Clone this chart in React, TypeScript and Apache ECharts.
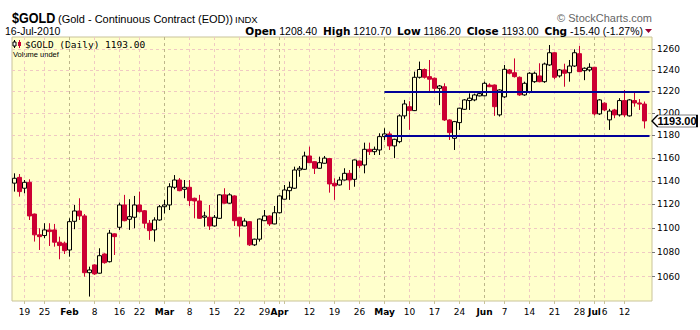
import React, { useEffect, useRef } from "react";
import * as echarts from "echarts";

// Trading days (Jan 14 - Jul 16, 2010)
const janDays = [14, 15, 19, 20, 21, 22, 25, 26, 27, 28, 29];
const febDays = [1, 2, 3, 4, 5, 8, 9, 10, 11, 12, 16, 17, 18, 19, 22, 23, 24, 25, 26];
const marDays = [1, 2, 3, 4, 5, 8, 9, 10, 11, 12, 15, 16, 17, 18, 19, 22, 23, 24, 25, 26, 29, 30, 31];
const aprDays = [1, 5, 6, 7, 8, 9, 12, 13, 14, 15, 16, 19, 20, 21, 22, 23, 26, 27, 28, 29, 30];
const mayDays = [3, 4, 5, 6, 7, 10, 11, 12, 13, 14, 17, 18, 19, 20, 21, 24, 25, 26, 27, 28];
const junDays = [1, 2, 3, 4, 7, 8, 9, 10, 11, 14, 15, 16, 17, 18, 21, 22, 23, 24, 25, 28, 29, 30];
const julDays = [1, 2, 6, 7, 8, 9, 12, 13, 14, 15, 16];

const weekStarts = [
  "Jan 19", "Jan 25", "Feb 1", "Feb 8", "Feb 16", "Feb 22", "Mar 1", "Mar 8", "Mar 15", "Mar 22",
  "Mar 29", "Apr 5", "Apr 12", "Apr 19", "Apr 26", "May 3", "May 10", "May 17", "May 24", "Jun 1",
  "Jun 7", "Jun 14", "Jun 21", "Jun 28", "Jul 6", "Jul 12",
];
const monthStarts = ["Feb 1", "Mar 1", "Apr 1", "May 3", "Jun 1", "Jul 1"];
const unlabeledWeeks = ["Apr 5"];

const open = [
  1138.0, 1143.0, 1133.6, 1138.7, 1111.6, 1094.2, 1093.6, 1098.3, 1098.3, 1088.1,
  1087.3, 1081.7, 1105.5, 1114.2, 1110.0, 1063.2, 1069.5, 1062.8, 1078.4, 1072.1,
  1095.0, 1100.5, 1119.3, 1107.2, 1108.9, 1119.3, 1114.4, 1103.9, 1098.3, 1106.6,
  1117.8, 1119.3, 1134.4, 1140.7, 1132.7, 1134.4, 1125.0, 1122.7, 1108.9, 1108.9,
  1101.6, 1108.0, 1127.9, 1120.8, 1127.0, 1108.9, 1101.6, 1105.2, 1085.9, 1090.6,
  1106.0, 1110.0, 1103.3, 1112.7, 1124.2, 1131.5, 1133.6, 1149.4, 1150.0, 1161.7,
  1156.7, 1150.9, 1155.3, 1159.4, 1137.9, 1136.4, 1140.7, 1146.5, 1141.3, 1157.3,
  1153.8, 1167.6, 1165.5, 1167.0, 1178.9, 1181.3, 1170.6, 1174.4, 1197.6, 1206.0,
  1202.4, 1233.2, 1240.5, 1233.8, 1232.3, 1222.9, 1224.4, 1193.9, 1177.4, 1191.5,
  1203.6, 1211.6, 1212.2, 1215.9, 1216.0, 1226.0, 1226.0, 1198.5, 1215.0, 1240.1,
  1237.5, 1233.2, 1216.8, 1219.8, 1229.1, 1234.5, 1229.1, 1244.8, 1256.4, 1234.5,
  1240.1, 1237.5, 1243.8, 1255.5, 1239.4, 1240.1, 1242.6, 1199.4, 1209.2, 1194.0,
  1203.0, 1198.5, 1211.6, 1197.6, 1211.6, 1209.4, 1208.4,
];
const close = [
  1142.2, 1130.7, 1138.7, 1110.0, 1094.2, 1092.7, 1098.3, 1096.9, 1088.1, 1085.3,
  1081.1, 1105.2, 1114.2, 1110.0, 1063.2, 1065.4, 1062.2, 1077.0, 1071.3, 1095.6,
  1092.7, 1119.3, 1106.0, 1109.4, 1119.3, 1113.6, 1103.9, 1097.7, 1106.6, 1117.8,
  1119.3, 1134.9, 1140.7, 1131.5, 1134.4, 1123.0, 1122.7, 1108.0, 1110.0, 1101.6,
  1108.9, 1127.9, 1120.8, 1127.9, 1106.0, 1101.6, 1105.7, 1085.9, 1090.6, 1107.4,
  1110.0, 1103.3, 1112.7, 1127.0, 1132.1, 1134.4, 1149.4, 1150.9, 1161.7, 1155.8,
  1150.9, 1155.8, 1159.8, 1137.3, 1135.6, 1140.7, 1146.5, 1140.7, 1158.2, 1153.2,
  1167.6, 1165.5, 1167.6, 1178.9, 1181.3, 1170.6, 1176.5, 1197.6, 1208.5, 1202.4,
  1233.2, 1240.5, 1233.2, 1231.4, 1222.9, 1225.1, 1193.9, 1182.5, 1192.4, 1204.6,
  1212.2, 1213.8, 1216.8, 1218.0, 1227.6, 1224.4, 1206.0, 1221.4, 1240.7, 1237.0,
  1233.8, 1216.8, 1227.6, 1237.0, 1237.0, 1229.1, 1245.7, 1256.4, 1233.2, 1240.1,
  1237.0, 1243.8, 1256.4, 1238.5, 1241.7, 1242.6, 1199.4, 1212.2, 1203.0, 1202.0,
  1198.5, 1211.6, 1198.5, 1212.2, 1209.4, 1208.4, 1193.0,
];
const high = [
  1146.5, 1145.9, 1140.7, 1141.3, 1112.0, 1099.7, 1103.9, 1103.9, 1103.3, 1092.7,
  1088.6, 1108.0, 1119.3, 1125.0, 1111.6, 1068.1, 1070.0, 1083.1, 1079.0, 1098.3,
  1095.5, 1121.3, 1127.9, 1124.2, 1127.0, 1130.7, 1115.0, 1106.6, 1108.9, 1119.3,
  1123.6, 1137.9, 1145.0, 1142.4, 1140.7, 1140.7, 1125.5, 1127.9, 1113.6, 1119.3,
  1110.8, 1128.5, 1133.6, 1129.3, 1127.5, 1109.2, 1108.0, 1105.7, 1091.0, 1107.8,
  1115.0, 1110.5, 1118.4, 1127.5, 1136.4, 1139.2, 1152.3, 1152.9, 1165.5, 1170.0,
  1157.0, 1161.1, 1161.7, 1160.0, 1142.2, 1143.5, 1150.9, 1149.4, 1158.6, 1157.6,
  1173.5, 1173.5, 1170.0, 1181.9, 1186.4, 1183.4, 1177.0, 1199.0, 1212.2, 1211.0,
  1238.5, 1248.0, 1241.5, 1249.5, 1233.0, 1226.0, 1227.6, 1194.5, 1193.0, 1205.0,
  1213.0, 1218.3, 1218.0, 1219.0, 1229.1, 1227.6, 1226.5, 1222.0, 1244.8, 1241.0,
  1251.0, 1234.0, 1229.1, 1238.0, 1238.5, 1246.4, 1247.0, 1263.8, 1257.0, 1241.0,
  1246.0, 1249.5, 1259.7, 1262.9, 1242.5, 1246.4, 1243.0, 1213.0, 1210.0, 1204.0,
  1204.0, 1213.8, 1221.4, 1213.0, 1219.8, 1213.0, 1210.7,
];
const low = [
  1130.7, 1126.4, 1129.3, 1106.6, 1088.6, 1081.7, 1091.4, 1085.0, 1084.4, 1074.1,
  1078.4, 1076.2, 1098.9, 1106.6, 1060.0, 1044.1, 1061.4, 1062.5, 1070.5, 1071.5,
  1077.6, 1098.3, 1105.5, 1098.3, 1099.7, 1113.0, 1099.7, 1090.0, 1088.6, 1106.0,
  1112.2, 1115.0, 1132.7, 1131.0, 1125.0, 1118.4, 1108.0, 1107.5, 1101.0, 1098.3,
  1101.0, 1107.5, 1120.5, 1120.3, 1101.6, 1092.7, 1101.3, 1085.0, 1085.0, 1088.6,
  1105.7, 1101.6, 1103.0, 1112.2, 1124.0, 1123.6, 1133.0, 1143.5, 1149.6, 1155.5,
  1145.9, 1150.5, 1155.0, 1129.8, 1123.6, 1136.0, 1140.3, 1132.1, 1134.9, 1150.9,
  1146.5, 1162.6, 1162.6, 1162.6, 1175.9, 1167.0, 1159.8, 1173.0, 1195.0, 1185.0,
  1202.0, 1232.0, 1232.0, 1219.8, 1219.8, 1207.4, 1193.0, 1175.9, 1167.0, 1184.9,
  1203.0, 1203.0, 1211.0, 1215.5, 1215.5, 1224.0, 1197.6, 1197.0, 1214.0, 1236.0,
  1233.0, 1215.9, 1216.0, 1218.3, 1228.0, 1228.5, 1228.0, 1244.0, 1231.4, 1233.0,
  1224.4, 1229.1, 1243.0, 1238.0, 1230.5, 1238.5, 1198.0, 1198.5, 1202.0, 1184.9,
  1195.5, 1197.0, 1196.5, 1197.0, 1206.0, 1203.0, 1186.2,
];

const yTicks = [1060, 1080, 1100, 1120, 1140, 1160, 1180, 1200, 1220, 1240, 1260];
const yMin = 1040.6;
const yMax = 1271.5;
const trendLevels = [1220, 1180];
const trendStart = "May 3";

const SANS = '"Liberation Sans", Arial, sans-serif';
const VERD = '"DejaVu Sans", Verdana, sans-serif';
const MONO = '"DejaVu Sans Mono", monospace';
const PINK = "#EFC9C3";
const KHAKI = "#C9C39A";
const RED = "#CC0033";

export default function App() {
  const ref = useRef<HTMLDivElement>(null);

  useEffect(() => {
    const chart = echarts.init(ref.current!, null, { renderer: "svg" });

    const monthDays: [string, number[]][] = [
      ["Jan", janDays], ["Feb", febDays], ["Mar", marDays], ["Apr", aprDays],
      ["May", mayDays], ["Jun", junDays], ["Jul", julDays],
    ];
    const categories: string[] = [];
    monthDays.forEach(([m, days]) => days.forEach((d) => categories.push(`${m} ${d}`)));
    const n = categories.length;
    // one empty slot at the right edge of the plot (as in the reference)
    const axisCats = [...categories, " "];

    const candles = open.map((o, i) => [o, close[i], low[i], high[i]]);
    const lastO = open[n - 1], lastH = high[n - 1], lastL = low[n - 1], lastC = close[n - 1];
    const chg = lastC - close[n - 2];
    const pct = (chg / close[n - 2]) * 100;

    const weekSet = new Set(weekStarts);
    const monthSet = new Set(monthStarts);
    const unlabeled = new Set(unlabeledWeeks);

    const isLabel = (v: string) => !!v && (monthSet.has(v) || (weekSet.has(v) && !unlabeled.has(v)));

    const option: any = {
      animation: false,
      textStyle: { fontFamily: VERD },
      grid: {
        left: 12, right: 48, top: 37, bottom: 29,
        show: true, backgroundColor: "#FFFFCC", borderColor: KHAKI, borderWidth: 1,
      },
      xAxis: [
        {
          type: "category",
          data: axisCats,
          boundaryGap: true,
          axisLine: { show: false },
          axisTick: {
            show: true, alignWithLabel: true, length: 3,
            interval: (_i: number, v: string) => !!v && (weekSet.has(v) || monthSet.has(v)),
            lineStyle: { color: KHAKI },
          },
          axisLabel: {
            interval: (_i: number, v: string) => isLabel(v),
            formatter: (v: string) => {
              if (!v || !v.trim()) return "";
              const [m, d] = v.split(" ");
              return monthSet.has(v) ? `{b|${m}}` : d;
            },
            color: "#000", fontSize: 9, fontFamily: VERD, margin: 6,
            rich: { b: { fontWeight: "bold", fontSize: 9, fontFamily: VERD, color: "#000" } },
          },
          splitLine: {
            show: true, alignWithLabel: true,
            interval: (_i: number, v: string) => !!v && weekSet.has(v) && !monthSet.has(v),
            lineStyle: { color: PINK, type: [3, 3], width: 1 },
          },
        },
        {
          type: "category",
          data: axisCats,
          boundaryGap: true,
          position: "bottom",
          axisLine: { show: false },
          axisTick: { show: false },
          axisLabel: { show: false },
          splitLine: {
            show: true, alignWithLabel: true,
            interval: (_i: number, v: string) => !!v && monthSet.has(v),
            lineStyle: { color: "#BDB68A", type: [3, 3], width: 1 },
          },
        },
      ],
      yAxis: {
        type: "log",
        logBase: 10,
        position: "right",
        min: yMin,
        max: yMax,
        axisLine: { show: false },
        axisTick: { show: true, length: 3, customValues: yTicks, lineStyle: { color: "#777" } },
        axisLabel: {
          customValues: yTicks,
          formatter: (v: number) => String(Math.round(v)),
          color: "#000", fontSize: 9, fontFamily: VERD, margin: 5,
        },
        splitLine: {
          show: true, customValues: yTicks,
          lineStyle: { color: PINK, type: [3, 3], width: 1 },
        },
      },
      series: [
        {
          type: "candlestick",
          xAxisIndex: 0,
          data: candles,
          barWidth: 4,
          clip: false,
          itemStyle: {
            color: "#FFFFCC", color0: RED,
            borderColor: "#000", borderColor0: RED, borderWidth: 1,
          },
          markLine: {
            silent: true,
            symbol: ["none", "none"],
            label: { show: false },
            lineStyle: { color: "#000099", width: 2, type: "solid" },
            data: trendLevels.map((lv) => [
              { coord: [trendStart, lv] },
              { coord: [axisCats[n], lv] },
            ]),
          },
          markPoint: {
            silent: true,
            symbol: "path://M0,6L6,0L46,0L46,12L6,12Z",
            symbolSize: [45, 12],
            symbolOffset: [25, 0],
            itemStyle: { color: "#fff", borderColor: "#000", borderWidth: 1 },
            label: {
              show: true, position: "inside", offset: [2.5, 0],
              color: "#000", fontWeight: "bold", fontSize: 11, fontFamily: SANS,
              formatter: lastC.toFixed(2),
            },
            data: [{ coord: [axisCats[n], lastC], value: lastC }],
          },
        },
      ],
      graphic: [
        { type: "text", x: 12, y: 18, scaleX: 0.84, style: { text: "$GOLD", font: `bold 15px ${SANS}`, fill: "#000", verticalAlign: "middle" } },
        { type: "text", x: 58, y: 19, style: { text: "(Gold - Continuous Contract (EOD))", font: `11px ${SANS}`, fill: "#000", verticalAlign: "middle" } },
        { type: "text", x: 235, y: 19, style: { text: "INDX", font: `9.5px ${SANS}`, fill: "#000", verticalAlign: "middle" } },
        { type: "text", x: 5, y: 31, style: { text: "16-Jul-2010", font: `10.5px ${SANS}`, fill: "#000", verticalAlign: "middle" } },
        { type: "text", x: 652, y: 18, style: { text: "\u00A9 StockCharts.com", font: `11px ${SANS}`, fill: "#666", align: "right", verticalAlign: "middle" } },
        {
          type: "text", x: 643, y: 31,
          style: {
            text: `{b|Open} ${lastO.toFixed(2)}  {b|High} ${lastH.toFixed(2)}  {b|Low} ${lastL.toFixed(2)}  {b|Close} ${lastC.toFixed(2)}  {b|Chg} ${chg.toFixed(2)} (${pct.toFixed(2)}%)`,
            align: "right", verticalAlign: "middle",
            fontSize: 10.5, fontFamily: SANS, fill: "#000",
            rich: { b: { fontWeight: "bold", fontSize: 10.5, fontFamily: VERD, fill: "#000" } },
          },
        },
        { type: "polygon", shape: { points: [[645, 29], [652, 29], [648.5, 33]] }, style: { fill: "#990033" } },
        // legend icon
        { type: "line", shape: { x1: 14.5, y1: 40, x2: 14.5, y2: 48 }, style: { stroke: "#000", lineWidth: 1 } },
        { type: "rect", shape: { x: 13, y: 42, width: 3, height: 4 }, style: { fill: "#fff", stroke: "#000", lineWidth: 1 } },
        { type: "line", shape: { x1: 19.5, y1: 40, x2: 19.5, y2: 48 }, style: { stroke: RED, lineWidth: 1 } },
        { type: "rect", shape: { x: 18, y: 42, width: 3, height: 4 }, style: { fill: RED } },
        { type: "text", x: 25, y: 44, style: { text: `$GOLD (Daily) ${lastC.toFixed(2)}`, font: `9.5px ${MONO}`, fill: "#000", verticalAlign: "middle" } },
        { type: "text", x: 13, y: 54, style: { text: "Volume undef", font: `7.5px ${SANS}`, fill: "#000", verticalAlign: "middle" } },
      ],
    };

    chart.setOption(option);
    return () => chart.dispose();
  }, []);

  return (
    <div
      ref={ref}
      style={{ position: "fixed", left: 0, top: 0, width: 700, height: 330, background: "#fff" }}
    />
  );
}
